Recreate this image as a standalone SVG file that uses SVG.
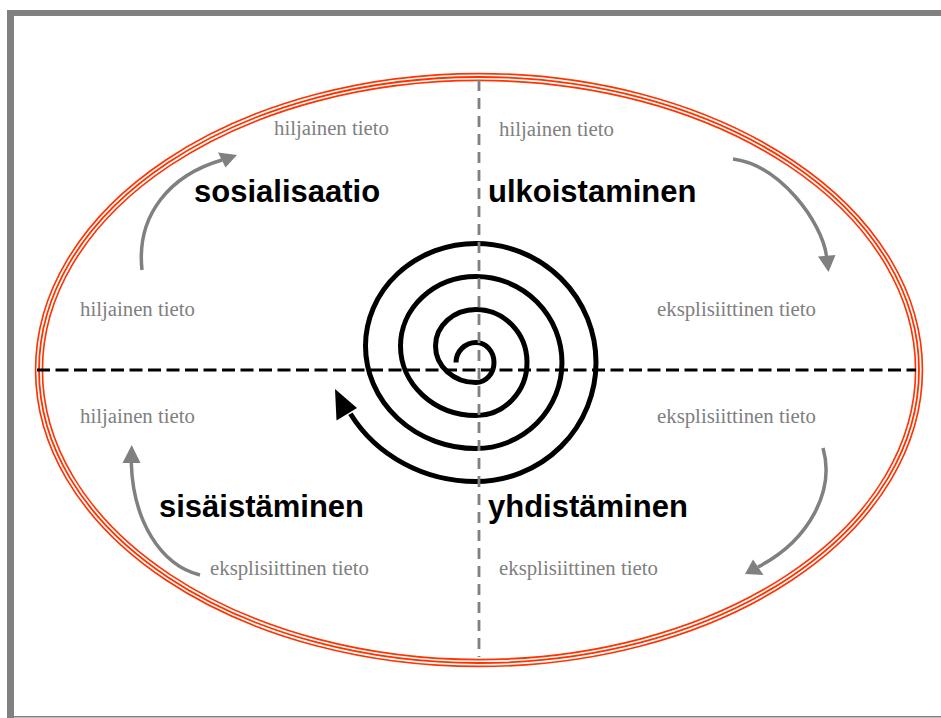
<svg xmlns="http://www.w3.org/2000/svg" width="941" height="718" viewBox="0 0 941 718">
<style>
.lbl{font-family:"Liberation Sans",Arial,sans-serif;font-weight:bold;font-size:31px;fill:#000}
.sub{font-family:"Liberation Serif","Times New Roman",serif;font-size:20.8px;fill:#808080}
.conn{fill:none;stroke:#808080;stroke-width:3.5}
.head{fill:#808080}
</style>
<rect x="0" y="0" width="941" height="718" fill="#fff"/>
<g id="frame">
<rect x="7" y="10" width="934" height="6" fill="#808080"/>
<rect x="7" y="10" width="7" height="708" fill="#808080"/>
<rect x="14" y="716" width="927" height="1.5" fill="#808080"/>
</g>
<g id="ellipse" fill="none">
<ellipse cx="479" cy="370" rx="440" ry="293" stroke="#ff3300" stroke-width="8.5"/>
<ellipse cx="479" cy="370" rx="440" ry="293" stroke="#fff" stroke-width="5.2"/>
<ellipse cx="479" cy="370" rx="440" ry="293" stroke="#ff3300" stroke-width="1.8"/>
</g>
<g id="spiral">
<path d="M456,362.5 A20,20 0 0 1 476,342.5 A18,20 0 0 1 476,382.5 A40.5,36.5 0 0 1 476,309.5 A51,53 0 0 1 476,415.5 A75.5,69.5 0 0 1 476,276.5 A86,86 0 0 1 476,448.5 A110.5,102.5 0 0 1 476,243.5 A120,119 0 0 1 476,481.5 A145,135.5 0 0 1 350.4,413.75" fill="none" stroke="#000" stroke-width="5"/>
<polygon points="335,389 336.5,420.5 357,408" fill="#000"/>
</g>
<g id="axes" fill="none">
<line x1="37" y1="370" x2="916" y2="370" stroke="#000" stroke-width="3" stroke-dasharray="13,5.5"/>
<line x1="479" y1="80" x2="479" y2="657" stroke="#808080" stroke-width="2.8" stroke-dasharray="11,7"/>
</g>
<g id="sosialisaatio">
<text class="lbl" x="194" y="202">sosialisaatio</text>
<text class="sub" x="274" y="135">hiljainen tieto</text>
<text class="sub" x="80" y="316">hiljainen tieto</text>
</g>
<g id="ulkoistaminen">
<text class="lbl" x="488" y="202">ulkoistaminen</text>
<text class="sub" x="499" y="136">hiljainen tieto</text>
<text class="sub" x="657" y="316">eksplisiittinen tieto</text>
</g>
<g id="sisaistaminen">
<text class="lbl" x="159" y="517">sisäistäminen</text>
<text class="sub" x="80" y="423">hiljainen tieto</text>
<text class="sub" x="210" y="575">eksplisiittinen tieto</text>
</g>
<g id="yhdistaminen">
<text class="lbl" x="488" y="517">yhdistäminen</text>
<text class="sub" x="657" y="423">eksplisiittinen tieto</text>
<text class="sub" x="499" y="575">eksplisiittinen tieto</text>
</g>
<g id="connectors">
<path class="conn" d="M142,270 C136,215 170,175 222,160"/>
<polygon class="head" points="237,155 218,152.5 225.5,167.5"/>
<path class="conn" d="M733,159 C780,165 822,222 826.5,256"/>
<polygon class="head" points="828.5,272 818,256.5 835.5,255"/>
<path class="conn" d="M200,575 C160,565 133,520 131.3,463"/>
<polygon class="head" points="131.7,445 122.5,463 140.5,463"/>
<path class="conn" d="M823,448 C835,490 810,540 758,567"/>
<polygon class="head" points="745,574 753,559.5 763.5,575"/>
</g>
</svg>
